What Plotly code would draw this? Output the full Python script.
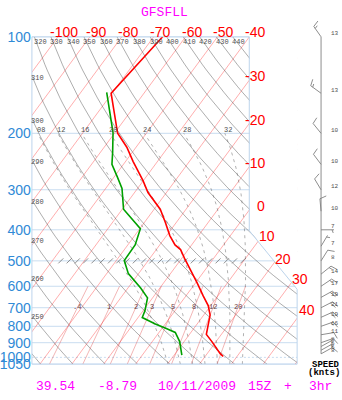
import numpy as np
import plotly.graph_objects as go

# ---------------- data ----------------
temp_p = [100, 150, 200, 221, 245, 281, 306, 345, 378, 417, 446, 461, 495, 530,
          588, 643, 689, 738, 791, 848, 893, 974, 994]
temp_c = [-67.2, -70.3, -59.0, -52.9, -47.6, -40.1, -35.8, -28.1, -23.6, -19.0,
          -15.2, -12.4, -8.7, -4.9, 0.7, 5.4, 9.2, 12.0, 13.6, 15.3, 18.7, 24.1, 25.7]

dew_p = [149, 199, 229, 250, 272, 297, 345, 397, 446, 488, 499, 548, 608, 652,
         716, 751, 787, 810, 836, 893, 937, 984]
dew_c = [-71.9, -60.6, -56.2, -53.6, -49.3, -44.9, -39.6, -29.8, -27.7, -27.6,
         -27.5, -23.2, -16.0, -11.6, -9.4, -8.7, -3.1, 0.9, 5.1, 8.6, 10.5, 12.4]

wind_p = [100, 150, 200, 250, 300, 350, 400, 450, 500, 550, 600, 650, 700, 750,
          800, 850, 900, 925, 950, 975]
wind_dir = [326, 307, 322, 324, 330, 355, 90, 30, 31, 50, 55, 60, 62, 65,
            70, 80, 70, 60, 60, 60]
wind_kt = [13, 13, 10, 10, 12, 10, 7, 7, 8, 14, 17, 19, 21, 19,
           16, 11, 8, 6, 6, 8]

pressure_ticks = [100, 200, 300, 400, 500, 600, 700, 800, 900, 1000, 1050]
isotherms = list(range(-120, 60, 10))
dry_theta = list(range(240, 450, 10))
dry_labels_top = list(range(320, 450, 10))
dry_labels_left = [310, 300, 290, 280, 270, 260, 250]
moist_thetaw = [8, 12, 16, 20, 24, 28, 32]
moist_labels = ["08", "12", "16", "20", "24", "28", "32"]
mix_ratios = [0.4, 1, 2, 3, 5, 8, 12, 20]
mix_labels = [".4", "1", "2", "3", "5", "8", "12", "20"]
top_temp_labels = [-100, -90, -80, -70, -60, -50, -40]
side_temp_labels = [-30, -20, -10, 0]
low_temp_labels = [10, 20, 30, 40]

title_text = "GFSFLL"
footer_items = ["39.54", "-8.79", "10/11/2009", "15Z", "+", "3hr"]

# ---------------- geometry ----------------
W, H = 342, 400
L_PX, R_PX, T_PX, B_PX = 31, 297, 30, 371
R_UP_PX, KNEE1_Y, KNEE2_Y = 249, 232, 293
P_TOP, P_BOT = 100.0, 1050.0
X_MIN, DEG_PX = -32.5, 3.2
X_MAX = X_MIN + (R_PX - L_PX) / DEG_PX
SKEW = 74.1
PX_DEC = (B_PX - T_PX) / np.log10(P_BOT / P_TOP)


def sx(T, p):
    return np.asarray(T, float) + SKEW * np.log10(P_BOT / np.asarray(p, float))


def xpix(X):
    return L_PX + (np.asarray(X, float) - X_MIN) * DEG_PX


def ypix(p):
    return T_PX + PX_DEC * np.log10(np.asarray(p, float) / P_TOP)


fig = go.Figure()


def add_multi(lines, color, width, dash=None, xa="x", ya="y"):
    xs, ys = [], []
    for X, P in lines:
        xs += list(X) + [None]
        ys += list(P) + [None]
    fig.add_trace(go.Scatter(x=xs, y=ys, mode="lines", xaxis=xa, yaxis=ya,
                             line=dict(color=color, width=width, dash=dash),
                             hoverinfo="skip", showlegend=False))


BLUE_GRID = "#c9ddf0"
# isobars
add_multi([([X_MIN, X_MAX], [p, p]) for p in pressure_ticks if p != 1000], BLUE_GRID, 1)
add_multi([([X_MIN, X_MAX], [1000, 1000])], BLUE_GRID, 1, dash="2px,2px")

# isotherms
add_multi([(sx([T, T], [P_BOT, P_TOP]), [P_BOT, P_TOP]) for T in isotherms],
          "rgba(255,40,40,0.42)", 0.9)

# dry adiabats
pgrid = np.geomspace(P_TOP, P_BOT, 60)
dry_lines = []
for th in dry_theta:
    T = th * (pgrid / 1000.0) ** 0.2857 - 273.15
    dry_lines.append((sx(T, pgrid), pgrid))
add_multi(dry_lines, "rgba(70,70,70,0.55)", 0.8)


# moist adiabats
def dTdp(T, p):
    Rd, cp, Lv, eps = 287.04, 1005.7, 2.501e6, 0.622
    es = 6.112 * np.exp(17.67 * (T - 273.15) / (T - 29.65))
    rs = eps * es / (p - es)
    return (Rd * T + Lv * rs) / (cp + Lv * Lv * rs * eps / (Rd * T * T)) / p


def integrate(T0, p0, p1, h):
    ps, Ts = [p0], [T0]
    p, T = p0, T0
    n = int(round((p1 - p0) / h))
    for _ in range(n):
        k1 = dTdp(T, p)
        k2 = dTdp(T + h / 2 * k1, p + h / 2)
        k3 = dTdp(T + h / 2 * k2, p + h / 2)
        k4 = dTdp(T + h * k3, p + h)
        T = T + h / 6 * (k1 + 2 * k2 + 2 * k3 + k4)
        p = p + h
        ps.append(p)
        Ts.append(T)
    return np.array(ps), np.array(Ts)


moist_lines = []
moist_at200 = []
for tw in moist_thetaw:
    pu, Tu = integrate(tw + 273.15, 1000.0, 200.0, -5.0)
    pd, Td = integrate(tw + 273.15, 1000.0, 1050.0, 5.0)
    P = np.concatenate([pd[::-1], pu[1:]])
    T = np.concatenate([Td[::-1], Tu[1:]]) - 273.15
    moist_lines.append((sx(T, P), P))
    moist_at200.append(sx(Tu[-1] - 273.15, 200.0))
add_multi(moist_lines, "rgba(90,90,90,0.6)", 0.8, dash="3px,4px")

# mixing ratio lines
pm = np.geomspace(600, P_BOT, 12)
mix_lines = []
mix_at700 = []
for w in mix_ratios:
    e = w * pm / (622.0 + w)
    a = np.log(e / 6.112)
    T = 243.5 * a / (17.67 - a)
    mix_lines.append((sx(T, pm), pm))
    e7 = w * 700 / (622.0 + w)
    a7 = np.log(e7 / 6.112)
    mix_at700.append(sx(243.5 * a7 / (17.67 - a7), 700))
add_multi(mix_lines, "rgba(220,60,60,0.42)", 0.9)

# hatched row at 500 hPa
hx = np.arange(X_MIN + (60 - L_PX) / DEG_PX, X_MIN + (246 - L_PX) / DEG_PX, 8.3 / DEG_PX)
fig.add_trace(go.Scatter(x=hx, y=[500] * len(hx), mode="markers", hoverinfo="skip",
                         showlegend=False,
                         marker=dict(symbol="line-ne", size=5,
                                     line=dict(color="rgba(80,80,80,0.7)", width=0.9))))

# profiles
fig.add_trace(go.Scatter(x=sx(temp_c, temp_p), y=temp_p, mode="lines", showlegend=False,
                         line=dict(color="#ff0000", width=1.6), hoverinfo="skip"))
fig.add_trace(go.Scatter(x=sx(dew_c, dew_p), y=dew_p, mode="lines", showlegend=False,
                         line=dict(color="#00a000", width=1.6), hoverinfo="skip"))

# ---------------- wind barbs (x2 pixel columns, y4 log pressure) ----------------
STAFF_X = 321
bx, by = [], []


def seg(x0, y0, x1, y1):
    # pixel y offsets -> pressure through the log scale
    return [x0, x1, None], [yp(y0), yp(y1), None]


def yp(ypx):
    return P_TOP * 10 ** ((ypx - T_PX) / PX_DEC)


bx += [STAFF_X, STAFF_X, None]
by += [wind_p[0], wind_p[-1], None]
for p, d, s in zip(wind_p, wind_dir, wind_kt):
    y0 = float(ypix(p))
    b = np.radians(d)
    ux, uy = np.sin(b), -np.cos(b)
    Ls = 13.0
    tx, ty = STAFF_X + Ls * ux, y0 + Ls * uy
    a, c = seg(STAFF_X, y0, tx, ty)
    bx += a; by += c
    n5 = int(round(s / 5.0))
    full, half = divmod(n5, 2)
    fb = np.radians(d + 70)
    fx, fy = np.sin(fb), -np.cos(fb)
    pos = 0.0
    for _ in range(full):
        x0, yy0 = tx - pos * ux, ty - pos * uy
        a, c = seg(x0, yy0, x0 + 7 * fx, yy0 + 7 * fy)
        bx += a; by += c
        pos += 2.5
    for _ in range(half):
        if full == 0:
            pos = 2.0
        x0, yy0 = tx - pos * ux, ty - pos * uy
        a, c = seg(x0, yy0, x0 + 3.5 * fx, yy0 + 3.5 * fy)
        bx += a; by += c
fig.add_trace(go.Scatter(x=bx, y=by, mode="lines", xaxis="x2", yaxis="y4",
                         line=dict(color="#808080", width=0.9), hoverinfo="skip",
                         showlegend=False))
# invisible trace for pixel overlay axes
fig.add_trace(go.Scatter(x=[0], y=[0], mode="markers", xaxis="x3", yaxis="y3",
                         marker=dict(opacity=0), hoverinfo="skip", showlegend=False))

# ---------------- annotations ----------------
ann = []
SANS = "Liberation Sans, Arial, sans-serif"
MONO = "Liberation Mono, Courier New, monospace"


def A(x, y, text, color, size, family, xanchor="center", yanchor="middle", bold=False):
    if bold:
        text = "<b>" + text + "</b>"
    ann.append(dict(x=x, y=y, xref="x3", yref="y3", text=text, showarrow=False,
                    xanchor=xanchor, yanchor=yanchor,
                    font=dict(color=color, size=size, family=family)))


A(164, 5, title_text, "#ff00ff", 13, MONO)
footer_x = [(33, "left"), (95, "left"), (155, "left"), (246, "left"), (288, "center"), (307, "left")]
for (fx_, anc), t in zip(footer_x, footer_items):
    A(fx_, 394, t, "#ff00ff", 13, MONO, xanchor=anc)

for T in top_temp_labels:
    A(float(xpix(sx(T, P_TOP))) + 6, 25, str(T), "#ff0000", 14, SANS)
X_RUP = X_MIN + (R_UP_PX - L_PX) / DEG_PX
for T in side_temp_labels:
    p_hit = P_BOT / 10 ** ((X_RUP - T) / SKEW)
    A(267, float(ypix(p_hit)) - 4, str(T), "#ff0000", 14, SANS, xanchor="right")
for T, (lx, ly) in zip(low_temp_labels, [(267, 238), (283, 261), (300, 282), (307, 315)]):
    A(lx, ly, str(T), "#ff0000", 14, SANS)

GRAYTXT = "#505050"
for th in dry_labels_top:
    Tt = th * (P_TOP / 1000.0) ** 0.2857 - 273.15
    A(float(xpix(sx(Tt, P_TOP))) + 6, 35, str(th), GRAYTXT, 7, MONO)
pfine = np.geomspace(P_TOP, P_BOT, 2000)
for th in dry_labels_left:
    Xf = sx(th * (pfine / 1000.0) ** 0.2857 - 273.15, pfine)
    ph = np.interp(X_MIN, Xf, pfine)
    A(37, float(ypix(ph)) + 2, str(th), GRAYTXT, 7, MONO)
for lab, X2 in zip(moist_labels, moist_at200):
    A(float(xpix(X2)) + 3, float(ypix(200)) - 3, lab, GRAYTXT, 7, MONO)
for lab, X7 in zip(mix_labels, mix_at700):
    A(float(xpix(X7)), float(ypix(700)) - 1, lab, "#6a4040", 7, MONO)

for p, s in zip(wind_p, wind_kt):
    A(329, float(ypix(p)) - 3, str(s), GRAYTXT, 6, MONO, xanchor="left")
A(342, 372, "SPEED", "#000000", 9, MONO, xanchor="right", bold=True)
A(342, 380, "(knts)", "#000000", 9, MONO, xanchor="right", bold=True)

# ---------------- shapes: mask + borders ----------------
BORDER = "#bcd4ec"
shapes = [
    dict(type="path", xref="x3", yref="y3", layer="above",
         path=f"M {R_UP_PX+0.5},20 L {R_PX+0.5},20 L {R_PX+0.5},{KNEE2_Y} L {R_UP_PX+0.5},{KNEE1_Y} Z",
         fillcolor="white", line=dict(width=0)),
    dict(type="path", xref="x3", yref="y3", layer="above",
         path=(f"M {L_PX},{B_PX} L {L_PX},{T_PX} L {R_UP_PX},{T_PX} L {R_UP_PX},{KNEE1_Y} "
               f"L {R_PX},{KNEE2_Y} L {R_PX},{B_PX} Z"),
         line=dict(color=BORDER, width=1)),
]

fig.update_layout(
    width=W, height=H, margin=dict(l=0, r=0, t=0, b=0),
    paper_bgcolor="white", plot_bgcolor="rgba(0,0,0,0)",
    showlegend=False, annotations=ann, shapes=shapes,
    xaxis=dict(domain=[L_PX / W, R_PX / W], range=[X_MIN, X_MAX], visible=False,
               anchor="y"),
    yaxis=dict(domain=[1 - B_PX / H, 1 - T_PX / H], type="log",
               range=[np.log10(P_BOT), np.log10(P_TOP)], anchor="x",
               tickvals=pressure_ticks, ticktext=[str(p) for p in pressure_ticks],
               tickfont=dict(color="#2f8ad6", size=14, family=SANS),
               showgrid=False, zeroline=False, showline=False, ticks=""),
    xaxis2=dict(domain=[R_PX / W, 1], range=[R_PX, W], visible=False, anchor="y4"),
    yaxis4=dict(domain=[0, 1], type="log", visible=False, anchor="x2",
                range=[np.log10(P_BOT) + (H - B_PX) / PX_DEC, np.log10(P_TOP) - T_PX / PX_DEC]),
    xaxis3=dict(domain=[0, 1], range=[0, W], visible=False, anchor="y3"),
    yaxis3=dict(domain=[0, 1], range=[H, 0], visible=False, anchor="x3"),
)

fig.write_html("out.html", config={"displayModeBar": False},
               post_script="document.body.style.margin='0';")
